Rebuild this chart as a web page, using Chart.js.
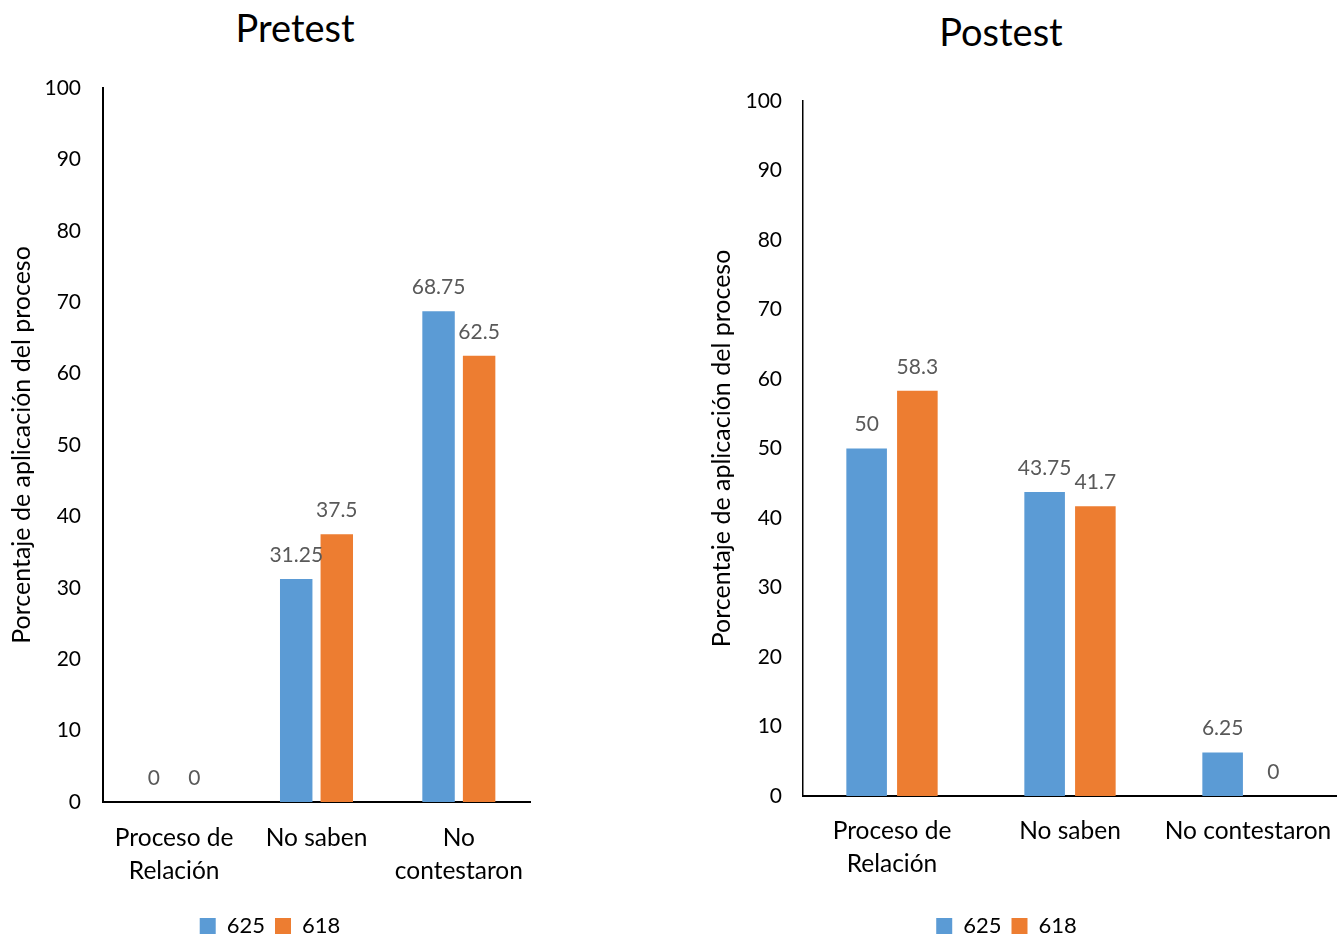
<!DOCTYPE html>
<html>
<head>
<meta charset="utf-8">
<title>Pretest / Postest</title>
<script src="https://cdn.jsdelivr.net/npm/chart.js@4.4.1/dist/chart.umd.min.js"></script>
<style>
  html, body { margin: 0; padding: 0; background: #fff; width: 1337px; height: 937px; overflow: hidden; }
  .panel { position: absolute; top: 0; height: 950px; }
  #prePanel { left: 0; width: 540px; }
  #postPanel { left: 676px; width: 670px; }
  .chart-title { position: absolute; font-family: Lato, sans-serif; font-size: 38px; color: #000;
                 line-height: 1; white-space: nowrap; transform: translateX(-50%); }
</style>
</head>
<body>
<div class="chart-title" style="left:295px; top:8px;">Pretest</div>
<div class="chart-title" style="left:1001px; top:12px;">Postest</div>
<div class="panel" id="prePanel"><canvas id="preChart"></canvas></div>
<div class="panel" id="postPanel"><canvas id="postChart"></canvas></div>

<script>
// Categories
const preCategories = [["Proceso de", "Relación"], "No saben", ["No", "contestaron"]];
const postCategories = [["Proceso de", "Relación"], "No saben", "No contestaron"];

// Series (groups)
const seriesNames = ["625", "618"];
const seriesColors = ["#5B9BD5", "#ED7D31"];

// Pretest percentages
const pre625 = [0, 31.25, 68.75];
const pre618 = [0, 37.5, 62.5];

// Postest percentages
const post625 = [50, 43.75, 6.25];
const post618 = [58.3, 41.7, 0];

// Value axis
const yMin = 0;
const yMax = 100;
const yStep = 10;
const yTitle = "Porcentaje de aplicación del proceso";

const FONT = "Lato, sans-serif";

// Writes each bar's value above it
const valueLabels = {
  id: "valueLabels",
  afterDatasetsDraw(chart) {
    const ctx = chart.ctx;
    ctx.save();
    ctx.font = "21px " + FONT;
    ctx.fillStyle = "#595959";
    ctx.textAlign = "center";
    ctx.textBaseline = "middle";
    chart.data.datasets.forEach((ds, i) => {
      chart.getDatasetMeta(i).data.forEach((bar, j) => {
        ctx.fillText(String(ds.data[j]), bar.x, bar.y - 24);
      });
    });
    ctx.restore();
  }
};

function buildChart(canvasId, labels, a, b, opt) {
  return new Chart(document.getElementById(canvasId), {
    type: "bar",
    data: {
      labels: labels,
      datasets: [
        { label: seriesNames[0], data: a, backgroundColor: seriesColors[0], borderWidth: 0 },
        { label: seriesNames[1], data: b, backgroundColor: seriesColors[1], borderWidth: 0 }
      ]
    },
    options: {
      responsive: true,
      maintainAspectRatio: false,
      animation: false,
      events: [],
      layout: { padding: { top: opt.top, right: opt.right, bottom: 3, left: opt.left } },
      datasets: { bar: { categoryPercentage: 0.57, barPercentage: 0.8 } },
      plugins: {
        title: { display: false },
        tooltip: { enabled: false },
        legend: {
          display: true,
          position: "bottom",
          labels: {
            boxWidth: 16, boxHeight: 16, padding: 10,
            color: "#000",
            font: { family: FONT, size: 22 }
          }
        }
      },
      scales: {
        x: {
          grid: { display: false, drawTicks: false },
          border: { display: true, color: "#000", width: 2 },
          ticks: { color: "#000", padding: opt.xPad, maxRotation: 0, autoSkip: false,
                   font: { family: FONT, size: 24.5, lineHeight: 1.36 } },
          afterFit(scale) {
            scale.height = opt.xHeight;
            // category labels fit inside their slots; no extra side room needed
            scale.paddingLeft = 0;
            scale.paddingRight = 0;
          }
        },
        y: {
          min: yMin, max: yMax,
          grid: { display: false, drawTicks: false },
          border: { display: true, color: "#000", width: opt.yBorder },
          ticks: { stepSize: yStep, color: "#000", padding: opt.yPad,
                   font: { family: FONT, size: 21 } },
          title: { display: true, text: yTitle, color: "#000",
                   font: { family: FONT, size: 25 }, padding: { top: opt.titlePad, bottom: 0 } },
          afterFit(scale) { scale.width = opt.yWidth; }
        }
      }
    },
    plugins: [valueLabels]
  });
}

buildChart("preChart", preCategories, pre625, pre618,
  { top: 88, right: 10, left: 10, xHeight: 103, xPad: 19, yWidth: 93, yPad: 22, yBorder: 2, titlePad: -3 });
buildChart("postChart", postCategories, post625, post618,
  { top: 101, right: 9, left: 0, xHeight: 109, xPad: 18, yWidth: 127, yPad: 21, yBorder: 1.5, titlePad: 31 });
</script>
</body>
</html>
